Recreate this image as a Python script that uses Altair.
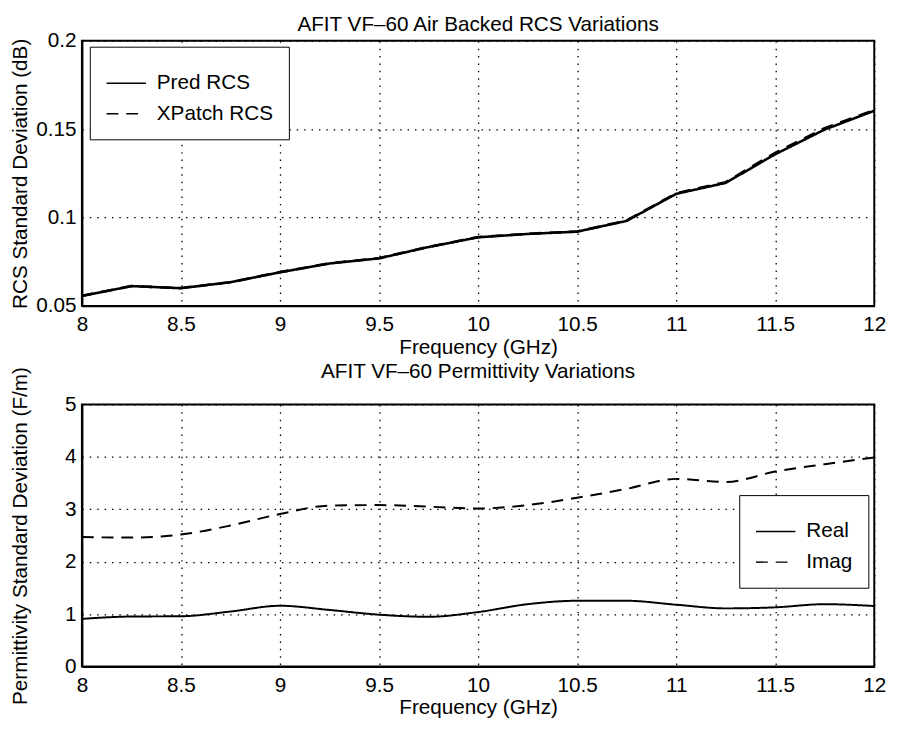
import altair as alt
import pandas as pd

FONT = "Liberation Sans"
FS = 21

freq = [8.0, 8.25, 8.5, 8.75, 9.0, 9.25, 9.5, 9.75, 10.0, 10.25, 10.5, 10.75, 11.0, 11.25, 11.5, 11.75, 12.0]
pred_rcs = [0.0556, 0.0612, 0.0600, 0.0634, 0.0690, 0.0740, 0.0769, 0.0833, 0.0888, 0.0907,
            0.0920, 0.0981, 0.1134, 0.1196, 0.1358, 0.1498, 0.1604]
xpatch_rcs = [0.0557, 0.0612, 0.0601, 0.0634, 0.0691, 0.0741, 0.0770, 0.0834, 0.0889, 0.0908,
              0.0921, 0.0983, 0.1137, 0.1200, 0.1366, 0.1506, 0.1607]
perm_real = [0.91, 0.955, 0.96, 1.05, 1.16, 1.08, 0.99, 0.95, 1.04, 1.19, 1.255, 1.255,
             1.18, 1.11, 1.13, 1.19, 1.155]
perm_imag = [2.47, 2.46, 2.52, 2.69, 2.91, 3.07, 3.08, 3.05, 3.015, 3.08, 3.22, 3.39,
             3.58, 3.52, 3.72, 3.86, 3.99]

x_ticks = [8, 8.5, 9, 9.5, 10, 10.5, 11, 11.5, 12]
rcs_ticks = [0.05, 0.1, 0.15, 0.2]
perm_ticks = [0, 1, 2, 3, 4, 5]

n = len(freq)
rcs_df = pd.DataFrame({
    "freq": freq * 2,
    "value": pred_rcs + xpatch_rcs,
    "series": ["Pred RCS"] * n + ["XPatch RCS"] * n,
})
perm_df = pd.DataFrame({
    "freq": freq * 2,
    "value": perm_real + perm_imag,
    "series": ["Real"] * n + ["Imag"] * n,
})


def x_enc():
    return alt.X(
        "freq:Q",
        scale=alt.Scale(domain=[8, 12], nice=False, zero=False),
        axis=alt.Axis(title="Frequency (GHz)", values=x_ticks, format="~g",
                      labelFlush=False, labelPadding=8, titlePadding=2),
    )


def legend(x, y):
    return alt.Legend(title=None, orient="none", legendX=x, legendY=y,
                      strokeColor="black", fillColor="white", padding=16,
                      labelFontSize=FS, labelFont=FONT, labelColor="black",
                      symbolType="stroke", symbolSize=1600, symbolStrokeWidth=1.5,
                      symbolStrokeColor="black", rowPadding=0, labelOffset=10)


top = alt.Chart(rcs_df).mark_line(color="black", strokeWidth=2.6).encode(
    x=x_enc(),
    y=alt.Y("value:Q",
            scale=alt.Scale(domain=[0.05, 0.2], nice=False, zero=False),
            axis=alt.Axis(title="RCS Standard Deviation (dB)", values=rcs_ticks,
                          format="~g", labelFlush=False, labelPadding=6, titleX=-52)),
    strokeDash=alt.StrokeDash("series:N",
                              scale=alt.Scale(domain=["Pred RCS", "XPatch RCS"],
                                              range=[[1, 0], [12, 8]]),
                              legend=legend(8, 6)),
).properties(width=804, height=269,
             title=alt.TitleParams("AFIT VF–60 Air Backed RCS Variations", offset=-5))

bottom = alt.Chart(perm_df).mark_line(color="black", strokeWidth=2, interpolate="monotone").encode(
    x=x_enc(),
    y=alt.Y("value:Q",
            scale=alt.Scale(domain=[0, 5], nice=False, zero=False),
            axis=alt.Axis(title="Permittivity Standard Deviation (F/m)", values=perm_ticks,
                          format="d", labelFlush=False, labelPadding=6, titleX=-52)),
    strokeDash=alt.StrokeDash("series:N",
                              scale=alt.Scale(domain=["Real", "Imag"],
                                              range=[[1, 0], [12, 8]]),
                              legend=legend(667, 92)),
).properties(width=804, height=266,
             title=alt.TitleParams("AFIT VF–60 Permittivity Variations", offset=-16))

chart = alt.vconcat(top, bottom, spacing=100, bounds="flush").resolve_scale(
    strokeDash="independent"
).resolve_legend(strokeDash="independent").properties(
    padding={"left": 0, "top": 0, "right": 5, "bottom": 0}
).configure_view(
    stroke="black", strokeWidth=2
).configure_axis(
    grid=True, gridColor="black", gridDash=[1.5, 6], gridWidth=1.3, gridOpacity=1,
    domainColor="black", domainWidth=2, ticks=False,
    labelFont=FONT, labelFontSize=FS, labelColor="black",
    titleFont=FONT, titleFontSize=FS, titleFontWeight="normal", titleColor="black",
).configure_title(
    font=FONT, fontSize=FS, fontWeight="normal", color="black", anchor="middle"
)

chart.save("out.html", embed_options={"renderer": "svg", "actions": False})
